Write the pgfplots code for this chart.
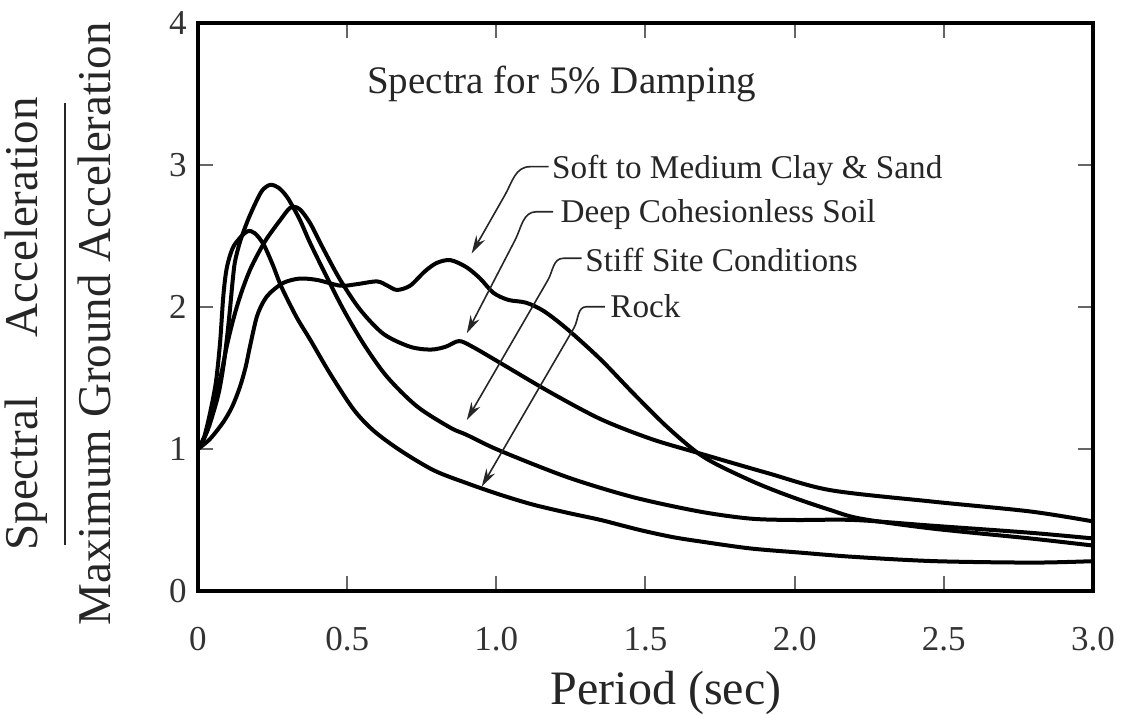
\documentclass[border=0pt]{standalone}
\usepackage{fontspec}
\setmainfont{Liberation Serif}
\usepackage{pgfplots}
\pgfplotsset{compat=1.18}
\usetikzlibrary{arrows.meta}

\pgfplotstableread{
x y
0 1.00
0.02 1.08
0.04 1.25
0.06 1.47
0.074 1.75
0.085 2.08
0.097 2.28
0.12 2.43
0.163 2.53
0.19 2.52
0.22 2.44
0.25 2.30
0.28 2.14
0.33 1.93
0.376 1.77
0.443 1.53
0.521 1.28
0.588 1.13
0.678 0.99
0.79 0.85
0.90 0.76
1.01 0.68
1.12 0.61
1.24 0.55
1.35 0.50
1.48 0.43
1.59 0.38
1.68 0.35
1.85 0.30
2.02 0.27
2.2 0.24
2.47 0.21
2.8 0.20
3.0 0.21
}\rock

\pgfplotstableread{
x y
0 1.00
0.03 1.12
0.052 1.26
0.07 1.40
0.085 1.58
0.097 1.78
0.107 1.98
0.116 2.18
0.124 2.32
0.141 2.46
0.165 2.60
0.19 2.72
0.215 2.82
0.242 2.86
0.27 2.84
0.30 2.77
0.34 2.62
0.376 2.45
0.432 2.21
0.488 1.98
0.555 1.74
0.633 1.51
0.734 1.30
0.846 1.15
0.90 1.10
1.01 0.99
1.24 0.80
1.46 0.66
1.68 0.56
1.85 0.51
2.0 0.50
2.2 0.50
2.46 0.46
2.79 0.41
3.0 0.37
}\stiff

\pgfplotstableread{
x y
0 1.00
0.018 1.06
0.04 1.20
0.063 1.39
0.08 1.55
0.096 1.72
0.113 1.87
0.13 2.00
0.15 2.13
0.174 2.26
0.20 2.37
0.23 2.48
0.275 2.61
0.31 2.70
0.34 2.69
0.376 2.59
0.42 2.41
0.477 2.19
0.544 1.98
0.622 1.81
0.711 1.72
0.78 1.70
0.83 1.72
0.875 1.76
0.92 1.72
1.01 1.61
1.18 1.40
1.35 1.21
1.52 1.07
1.68 0.97
1.91 0.83
2.12 0.71
2.46 0.63
2.79 0.56
3.0 0.49
}\deep

\pgfplotstableread{
x y
0 1.00
0.04 1.07
0.085 1.19
0.115 1.30
0.141 1.44
0.16 1.58
0.174 1.72
0.197 1.93
0.22 2.04
0.242 2.10
0.286 2.17
0.34 2.20
0.40 2.19
0.477 2.15
0.53 2.16
0.60 2.18
0.635 2.15
0.667 2.12
0.711 2.15
0.76 2.25
0.80 2.31
0.846 2.33
0.90 2.28
0.946 2.20
0.99 2.10
1.04 2.05
1.10 2.03
1.16 1.97
1.24 1.84
1.35 1.63
1.46 1.39
1.57 1.16
1.67 0.98
1.74 0.89
1.85 0.78
1.93 0.71
2.02 0.64
2.12 0.57
2.22 0.51
2.46 0.44
2.79 0.37
3.0 0.32
}\soft

\begin{document}
\begin{tikzpicture}
\useasboundingbox (-99pt,-62pt) rectangle (463.5pt,295.5pt);
\begin{axis}[
  name=ax,
  at={(0,0)}, anchor=south west,
  scale only axis,
  width=447.5pt, height=284pt,
  xmin=0, xmax=3, ymin=0, ymax=4,
  xtick={0,0.5,1,1.5,2,2.5,3},
  xticklabels={0,0.5,1.0,1.5,2.0,2.5,3.0},
  ytick={0,1,2,3,4},
  tick align=inside,
  major tick length=7.5pt,
  axis line style={line width=2pt},
  tick style={line width=1pt, black!60},
  ticklabel style={font=\fontsize{17.5}{17.5}\selectfont, text=black!80},
  xticklabel style={inner sep=0pt, yshift=-18pt},
  yticklabel style={inner sep=0pt, xshift=-5.5pt},
  /pgf/number format/assume math mode=true,
  xlabel={Period (sec)},
  xlabel style={font=\fontsize{24}{24}\selectfont, text=black!85, at={(axis description cs:0.523,0)}, anchor=north, inner sep=0pt, yshift=-40pt},
]
\addplot[black, line width=2pt, smooth, tension=0.5] table {\rock};
\addplot[black, line width=2pt, smooth, tension=0.5] table {\stiff};
\addplot[black, line width=2pt, smooth, tension=0.5] table {\deep};
\addplot[black, line width=2pt, smooth, tension=0.5] table {\soft};

\node[anchor=base west, inner sep=0pt, font=\fontsize{19.5}{19.5}\selectfont, text=black!85] at (axis cs:0.566,3.505) {Spectra for 5\% Damping};

\node[anchor=base west, inner sep=0pt, font=\fontsize{16.6}{16.6}\selectfont, text=black!85] at (axis cs:1.186,2.908) {Soft to Medium Clay \& Sand};
\node[anchor=base west, inner sep=0pt, font=\fontsize{16.6}{16.6}\selectfont, text=black!85] at (axis cs:1.214,2.592) {Deep Cohesionless Soil};
\node[anchor=base west, inner sep=0pt, font=\fontsize{16.6}{16.6}\selectfont, text=black!85] at (axis cs:1.297,2.249) {Stiff Site Conditions};
\node[anchor=base west, inner sep=0pt, font=\fontsize{16.6}{16.6}\selectfont, text=black!85] at (axis cs:1.381,1.923) {Rock};

\draw[black!85, line width=0.8pt, -{Stealth[length=9pt,width=5pt]}]
  (axis cs:1.175,2.988) -- (axis cs:1.113,2.988) to[out=180,in=60.5] (axis cs:1.029,2.789) -- (axis cs:0.9175,2.378);
\draw[black!85, line width=0.8pt, -{Stealth[length=9pt,width=5pt]}]
  (axis cs:1.19,2.671) -- (axis cs:1.135,2.671) to[out=180,in=62.5] (axis cs:1.063,2.472) -- (axis cs:0.901,1.815);
\draw[black!85, line width=0.8pt, -{Stealth[length=9pt,width=5pt]}]
  (axis cs:1.286,2.343) -- (axis cs:1.225,2.343) to[out=180,in=60.3] (axis cs:1.173,2.190) -- (axis cs:0.901,1.204);
\draw[black!85, line width=0.8pt, -{Stealth[length=9pt,width=5pt]}]
  (axis cs:1.364,2.002) -- (axis cs:1.303,2.002) to[out=180,in=59.7] (axis cs:1.260,1.852) -- (axis cs:0.951,0.735);
\end{axis}
\node[rotate=90, inner sep=0pt, font=\fontsize{23.5}{28}\selectfont, text=black!85] at ([shift={(-67.5pt,133.5pt)}]ax.south west)
 {\begin{tabular}{@{}c@{}}Spectral\hspace{29.5pt}Acceleration\\[-14pt]\rule{221pt}{0.9pt}\\[-5.5pt]Maximum Ground Acceleration\end{tabular}};
\end{tikzpicture}
\end{document}
